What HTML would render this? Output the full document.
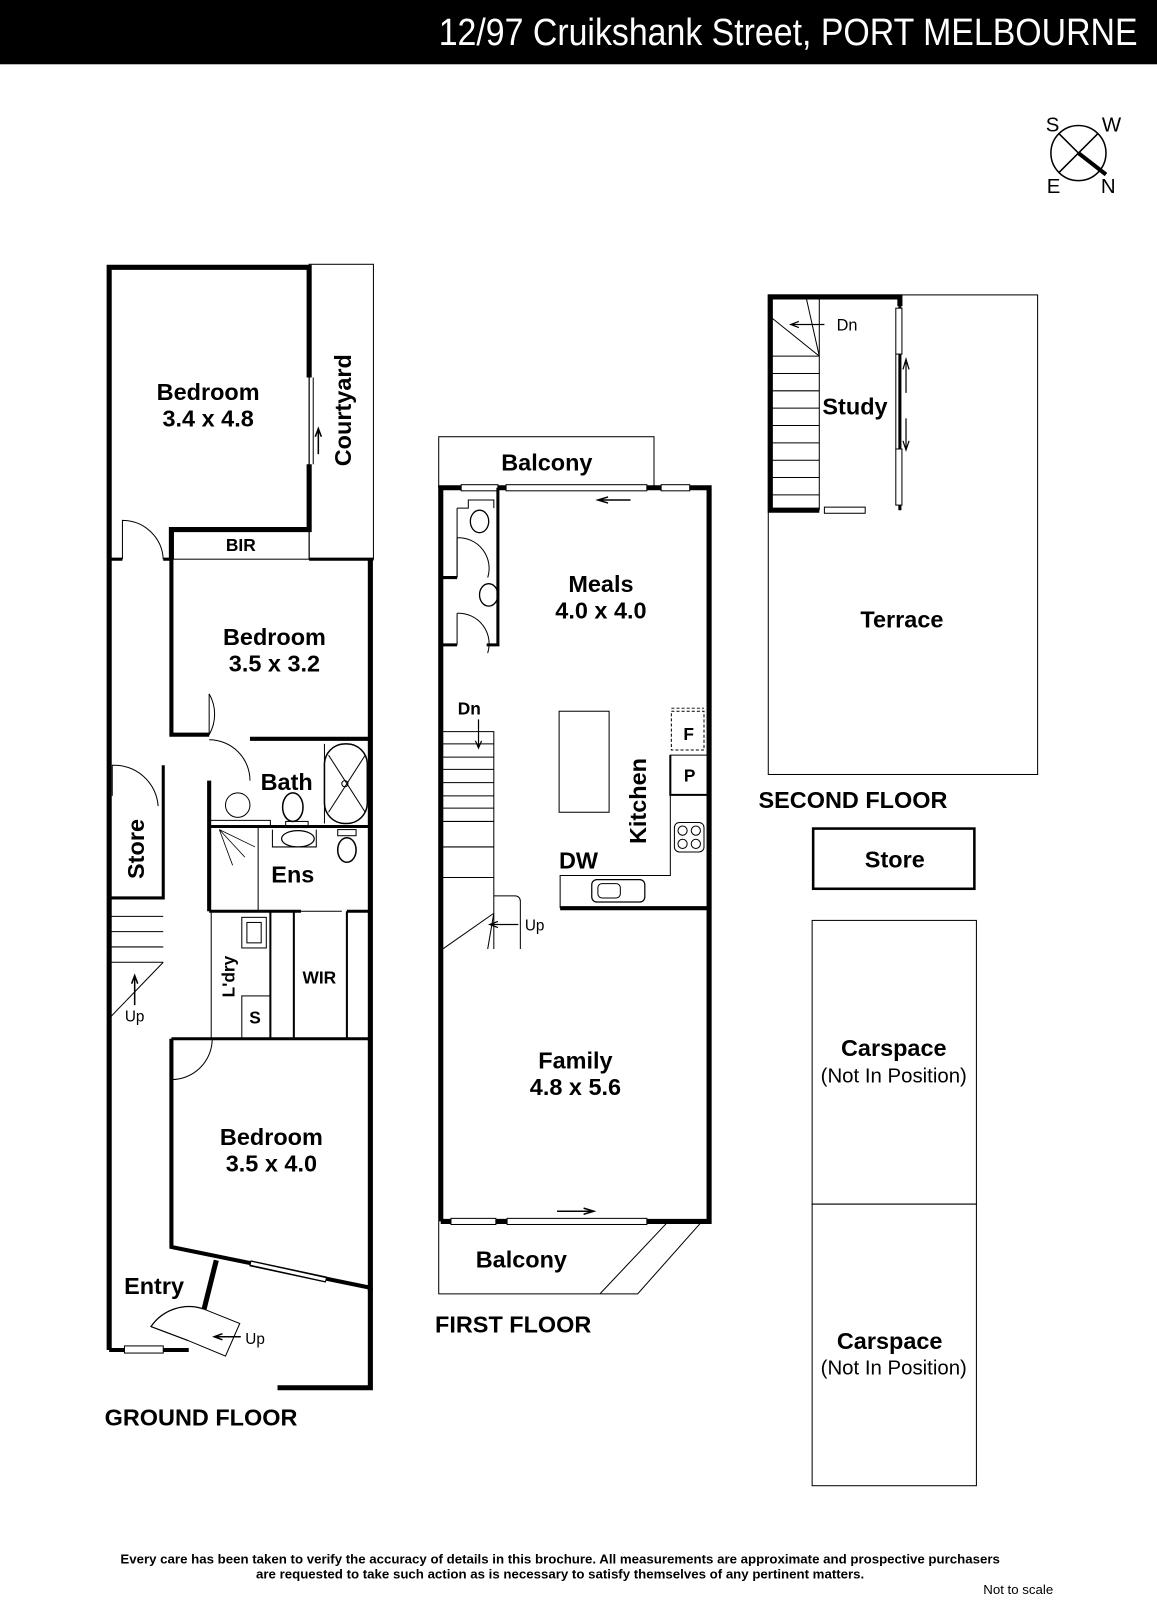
<!DOCTYPE html>
<html><head><meta charset="utf-8"><style>
html,body{margin:0;padding:0;background:#fff;}
svg{display:block;}
text{font-family:"Liberation Sans Narrow","Liberation Sans",sans-serif;fill:#000;}
.l{font-size:23px;font-weight:bold;}
.s{font-size:17px;font-weight:bold;}
</style></head><body>
<svg width="1157" height="1600" viewBox="0 0 1134 1568" preserveAspectRatio="none" xmlns="http://www.w3.org/2000/svg">
<rect x="0" y="0" width="1134" height="63" fill="#000"/>
<text x="1115" y="44" text-anchor="end" style="font-size:37px;fill:#fff" textLength="685" lengthAdjust="spacingAndGlyphs">12/97 Cruikshank Street, PORT MELBOURNE</text>
<!-- compass -->
<g stroke="#000" fill="none">
<circle cx="1057" cy="150" r="27" stroke-width="1.5"/>
<line x1="1038" y1="131" x2="1057" y2="150" stroke-width="1.5"/><line x1="1057" y1="150" x2="1084" y2="171" stroke-width="4"/>
<line x1="1076" y1="131" x2="1038" y2="169" stroke-width="1.5"/>
</g>
<text x="1025" y="129" style="font-size:20px">S</text><text x="1080" y="129" style="font-size:20px">W</text>
<text x="1026" y="189" style="font-size:20px">E</text><text x="1079" y="189" style="font-size:20px">N</text>

<!-- GROUND FLOOR -->
<g fill="none" stroke="#000">
<rect x="303" y="259" width="63" height="289" stroke-width="1"/>
<path d="M107 1323 V262 H303 V370 M303 455 V519 H168 V548" stroke-width="5"/>
<path d="M303 548 H366" stroke-width="3"/>
<path d="M303 370 V455" stroke-width="1"/><path d="M307 370 V455" stroke-width="1"/>
<path d="M312 445 V422 M309 428 L312 420 L315 428" stroke-width="1.5"/>
<rect x="168" y="519" width="135" height="29" stroke-width="1"/>
<path d="M107 548 H120 M160 548 H168" stroke-width="3"/>
<path d="M120 548 V510 A40 40 0 0 1 160 548" stroke-width="1"/>
<path d="M168 548 V720 H205 M245 724 H363" stroke-width="4"/>
<path d="M168 720 H205 A40 40 0 0 0 205 680" stroke-width="1"/>
<path d="M205 680 V720" stroke-width="1"/>
<path d="M363 548 V1265" stroke-width="5"/>
<path d="M205 725 A40 40 0 0 1 245 765" stroke-width="1"/>
<path d="M205 765 V893" stroke-width="4"/>
<path d="M205 810 H363" stroke-width="3"/>
<rect x="318" y="729" width="42" height="78" rx="20" stroke-width="1.5"/>
<path d="M318 729 V807" stroke-width="1"/>
<path d="M322 740 L358 796 M358 740 L322 796" stroke-width="1"/>
<circle cx="338" cy="768" r="3" stroke-width="1"/>
<circle cx="233" cy="789" r="12" stroke-width="1"/>
<path d="M205 804 H265 V810" stroke-width="1"/>
<ellipse cx="287" cy="791" rx="10" ry="14" stroke-width="1.5"/>
<rect x="280" y="805" width="22" height="6" stroke-width="1"/>
<path d="M253 810 V893" stroke-width="1"/>
<path d="M215 813 L240 840" stroke-width="0.8"/><path d="M215 813 L250 830" stroke-width="0.8"/><path d="M215 813 L228 848" stroke-width="0.8"/>
<path d="M267 813 V830 H310 V813" stroke-width="1"/><ellipse cx="292" cy="822" rx="16" ry="8" stroke-width="1.2"/>
<ellipse cx="340" cy="833" rx="9" ry="12" stroke-width="1.5"/><rect x="331" y="813" width="18" height="6" stroke-width="1"/>
<path d="M205 893 H295 M340 893 H363" stroke-width="3"/>
<path d="M295 893 H335 M295 1018 H335" stroke-width="1"/>
<path d="M207 893 V1018" stroke-width="1"/>
<path d="M265 893 V1018 M288 893 V1018 M340 893 V1018" stroke-width="2"/>
<rect x="237" y="899" width="24" height="30" stroke-width="1"/><rect x="242" y="904" width="14" height="20" stroke-width="1"/>
<rect x="237" y="976" width="28" height="42" stroke-width="1"/>
<path d="M168 1018 H205 M205 1018 H363" stroke-width="3"/>
<path d="M168 1018 V1222 L363 1262" stroke-width="4"/>
<path d="M168 1058 H168 A40 40 0 0 0 208 1018" stroke-width="1"/>
<path d="M107 880 H160 V750" stroke-width="3"/>
<path d="M110 780 V750 A43 43 0 0 1 155 790" stroke-width="1"/>
<path d="M107 898 H160 M107 913 H160 M107 928 H160 M107 943 H160 M160 943 L107 998" stroke-width="1"/>
<path d="M132 985 V958 M129 964 L132 956 L135 964" stroke-width="1.5"/>
<path d="M107 1323 H185" stroke-width="4"/>
<rect x="122" y="1319" width="38" height="7" fill="#fff" stroke-width="1"/>
<path d="M212 1235 L200 1283" stroke-width="5"/>
<path d="M200 1283 L235 1297 L221 1329 L185 1314" stroke-width="1"/>
<path d="M185 1314 L148 1300 A45 45 0 0 1 200 1283" stroke-width="1.2"/>
<path d="M236 1310 H212 M218 1307 L210 1310 L218 1313" stroke-width="1.5"/>
<path d="M363 1262 V1360 H272" stroke-width="5"/>
<path d="M245 1238 L320 1254" stroke-width="6" stroke="#000"/>
<path d="M246 1238 L319 1254" stroke-width="3" stroke="#fff"/>
</g>
<text class="l" x="204" y="392" text-anchor="middle">Bedroom</text><text class="l" x="204" y="418" text-anchor="middle">3.4 x 4.8</text>
<text class="l" x="344" y="402" text-anchor="middle" transform="rotate(-90 344 402)">Courtyard</text>
<text class="s" x="236" y="540" text-anchor="middle">BIR</text>
<text class="l" x="269" y="632" text-anchor="middle">Bedroom</text><text class="l" x="269" y="658" text-anchor="middle">3.5 x 3.2</text>
<text class="l" x="281" y="774" text-anchor="middle">Bath</text>
<text class="l" x="287" y="865" text-anchor="middle">Ens</text>
<text class="s" x="313" y="964" text-anchor="middle">WIR</text>
<text class="s" x="230" y="957" text-anchor="middle" transform="rotate(-90 230 957)">L'dry</text>
<text class="s" x="250" y="1003" text-anchor="middle">S</text>
<text class="l" x="141" y="832" text-anchor="middle" transform="rotate(-90 141 832)">Store</text>
<text x="132" y="1001" text-anchor="middle" style="font-size:15px">Up</text>
<text class="l" x="266" y="1122" text-anchor="middle">Bedroom</text><text class="l" x="266" y="1148" text-anchor="middle">3.5 x 4.0</text>
<text class="l" x="151" y="1268" text-anchor="middle">Entry</text>
<text x="250" y="1317" text-anchor="middle" style="font-size:15px">Up</text>
<text class="l" x="197" y="1397" text-anchor="middle">GROUND FLOOR</text>

<!-- FIRST FLOOR -->
<g fill="none" stroke="#000">
<rect x="430" y="428" width="211" height="50" stroke-width="1"/>
<path d="M432 1197 V478 H695 V1197 H432" stroke-width="5"/>
<g fill="#fff" stroke-width="1"><rect x="452" y="475" width="36" height="6"/><rect x="496" y="475" width="138" height="6"/><rect x="648" y="475" width="28" height="6"/>
<rect x="442" y="1194" width="44" height="6"/><rect x="497" y="1194" width="137" height="6"/></g>
<path d="M618 490 H588 M596 487 L586 490 L596 493" stroke-width="1.5"/>
<path d="M546 1187 H580 M572 1184 L582 1187 L572 1190" stroke-width="1.5"/>
<path d="M488 478 V632 H477 M432 632 H448" stroke-width="3"/>
<path d="M432 566 H448" stroke-width="3"/>
<path d="M448 498 V566 M448 498 H459 V490 H484 V498" stroke-width="1"/>
<ellipse cx="470" cy="511" rx="9" ry="11" stroke-width="1.3"/>
<path d="M448 527 A30 30 0 0 1 478 566 M448 527 V566" stroke-width="1"/>
<path d="M448 601 A30 30 0 0 1 478 640 M448 601 V632" stroke-width="1"/>
<ellipse cx="479" cy="583" rx="9" ry="11" stroke-width="1.3"/>
<path d="M434 717 H484 V930 M434 729 H484 M434 742 H484 M434 754 H484 M434 767 H484 M434 780 H484 M434 792 H484 M434 805 H484 M434 830 H484 M434 860 H484 M484 895 L434 930 M484 895 L478 930 M484 878 H505 A5 5 0 0 1 510 883 V930" stroke-width="1"/>
<path d="M469 705 V732 M466 726 L469 733 L472 726" stroke-width="1.2"/>
<path d="M508 906 H482 M488 903 L480 906 L488 909" stroke-width="1.2"/>
<rect x="548" y="697" width="49" height="99" stroke-width="1"/>
<path d="M549 890 V858 H657 V740 H695" stroke-width="1"/>
<path d="M549 890 H695" stroke-width="4"/>
<rect x="658" y="697" width="32" height="38" stroke-width="1" stroke-dasharray="3,2"/>
<path d="M658 694 H690" stroke-width="0.8" stroke-dasharray="3,2"/>
<path d="M657 740 V779 H695" stroke-width="2"/>
<rect x="661" y="806" width="29" height="29" rx="5" stroke-width="1"/>
<circle cx="669" cy="814" r="4.5" stroke-width="1"/><circle cx="682" cy="814" r="4.5" stroke-width="1"/><circle cx="669" cy="827" r="4.5" stroke-width="1"/><circle cx="682" cy="827" r="4.5" stroke-width="1"/>
<rect x="580" y="862" width="52" height="22" rx="5" stroke-width="1.2"/><rect x="586" y="866" width="22" height="14" rx="4" stroke-width="1"/>
<path d="M430 1197 V1268 H625 L688 1197 M588 1268 L655 1197" stroke-width="1"/>
</g>
<text class="l" x="536" y="461" text-anchor="middle">Balcony</text>
<text class="l" x="589" y="580" text-anchor="middle">Meals</text><text class="l" x="589" y="606" text-anchor="middle">4.0 x 4.0</text>
<text class="s" x="460" y="700" text-anchor="middle">Dn</text>
<text x="524" y="912" text-anchor="middle" style="font-size:15px">Up</text>
<text class="s" x="675" y="725" text-anchor="middle">F</text>
<text class="s" x="676" y="766" text-anchor="middle">P</text>
<text class="l" x="633" y="785" text-anchor="middle" transform="rotate(-90 633 785)">Kitchen</text>
<text class="l" x="567" y="851" text-anchor="middle">DW</text>
<text class="l" x="564" y="1047" text-anchor="middle">Family</text><text class="l" x="564" y="1073" text-anchor="middle">4.8 x 5.6</text>
<text class="l" x="511" y="1242" text-anchor="middle">Balcony</text>
<text class="l" x="503" y="1306" text-anchor="middle">FIRST FLOOR</text>

<!-- SECOND FLOOR -->
<g fill="none" stroke="#000">
<rect x="753" y="289" width="264" height="470" stroke-width="1"/>
<path d="M882 300 V291 H755 V500 H803" stroke-width="5"/>
<path d="M882 300 V500" stroke-width="3"/>
<rect x="878" y="302" width="6" height="45" fill="#fff" stroke-width="1"/><rect x="878" y="440" width="6" height="55" fill="#fff" stroke-width="1"/>
<path d="M878 347 V440" stroke-width="1"/>
<rect x="808" y="497" width="40" height="6" fill="#fff" stroke-width="1"/>
<path d="M803 291 V500 M757 349 H803 M757 366 H803 M757 383 H803 M757 400 H803 M757 417 H803 M757 434 H803 M757 451 H803 M757 468 H803 M757 485 H803 M757 312 L803 349 M790 291 L803 349" stroke-width="1"/>
<path d="M808 318 H777 M783 315 L775 318 L783 321" stroke-width="1.2"/>
<path d="M888 385 V355 M885 362 L888 352 L891 362 M888 410 V440 M885 432 L888 441 L891 432" stroke-width="1.2"/>
<rect x="797" y="812" width="158" height="59" stroke-width="2.5"/>
<rect x="796" y="902" width="161" height="278" stroke-width="1"/>
<rect x="796" y="1180" width="161" height="276" stroke-width="1"/>
</g>
<text x="820" y="324" style="font-size:16px">Dn</text>
<text class="l" x="838" y="406" text-anchor="middle">Study</text>
<text class="l" x="884" y="615" text-anchor="middle">Terrace</text>
<text class="l" x="836" y="792" text-anchor="middle">SECOND FLOOR</text>
<text class="l" x="877" y="850" text-anchor="middle">Store</text>
<text class="l" x="876" y="1035" text-anchor="middle">Carspace</text><text x="876" y="1061" text-anchor="middle" style="font-size:20px">(Not In Position)</text>
<text class="l" x="872" y="1322" text-anchor="middle">Carspace</text><text x="876" y="1347" text-anchor="middle" style="font-size:20px">(Not In Position)</text>

<text x="549" y="1532" text-anchor="middle" style="font-size:13px;font-weight:bold">Every care has been taken to verify the accuracy of details in this brochure.  All measurements are approximate and prospective purchasers</text>
<text x="549" y="1547" text-anchor="middle" style="font-size:13px;font-weight:bold">are requested to take such action as is necessary to satisfy themselves of any pertinent matters.</text>
<text x="998" y="1562" text-anchor="middle" style="font-size:13px">Not to scale</text>
</svg>
</body></html>
